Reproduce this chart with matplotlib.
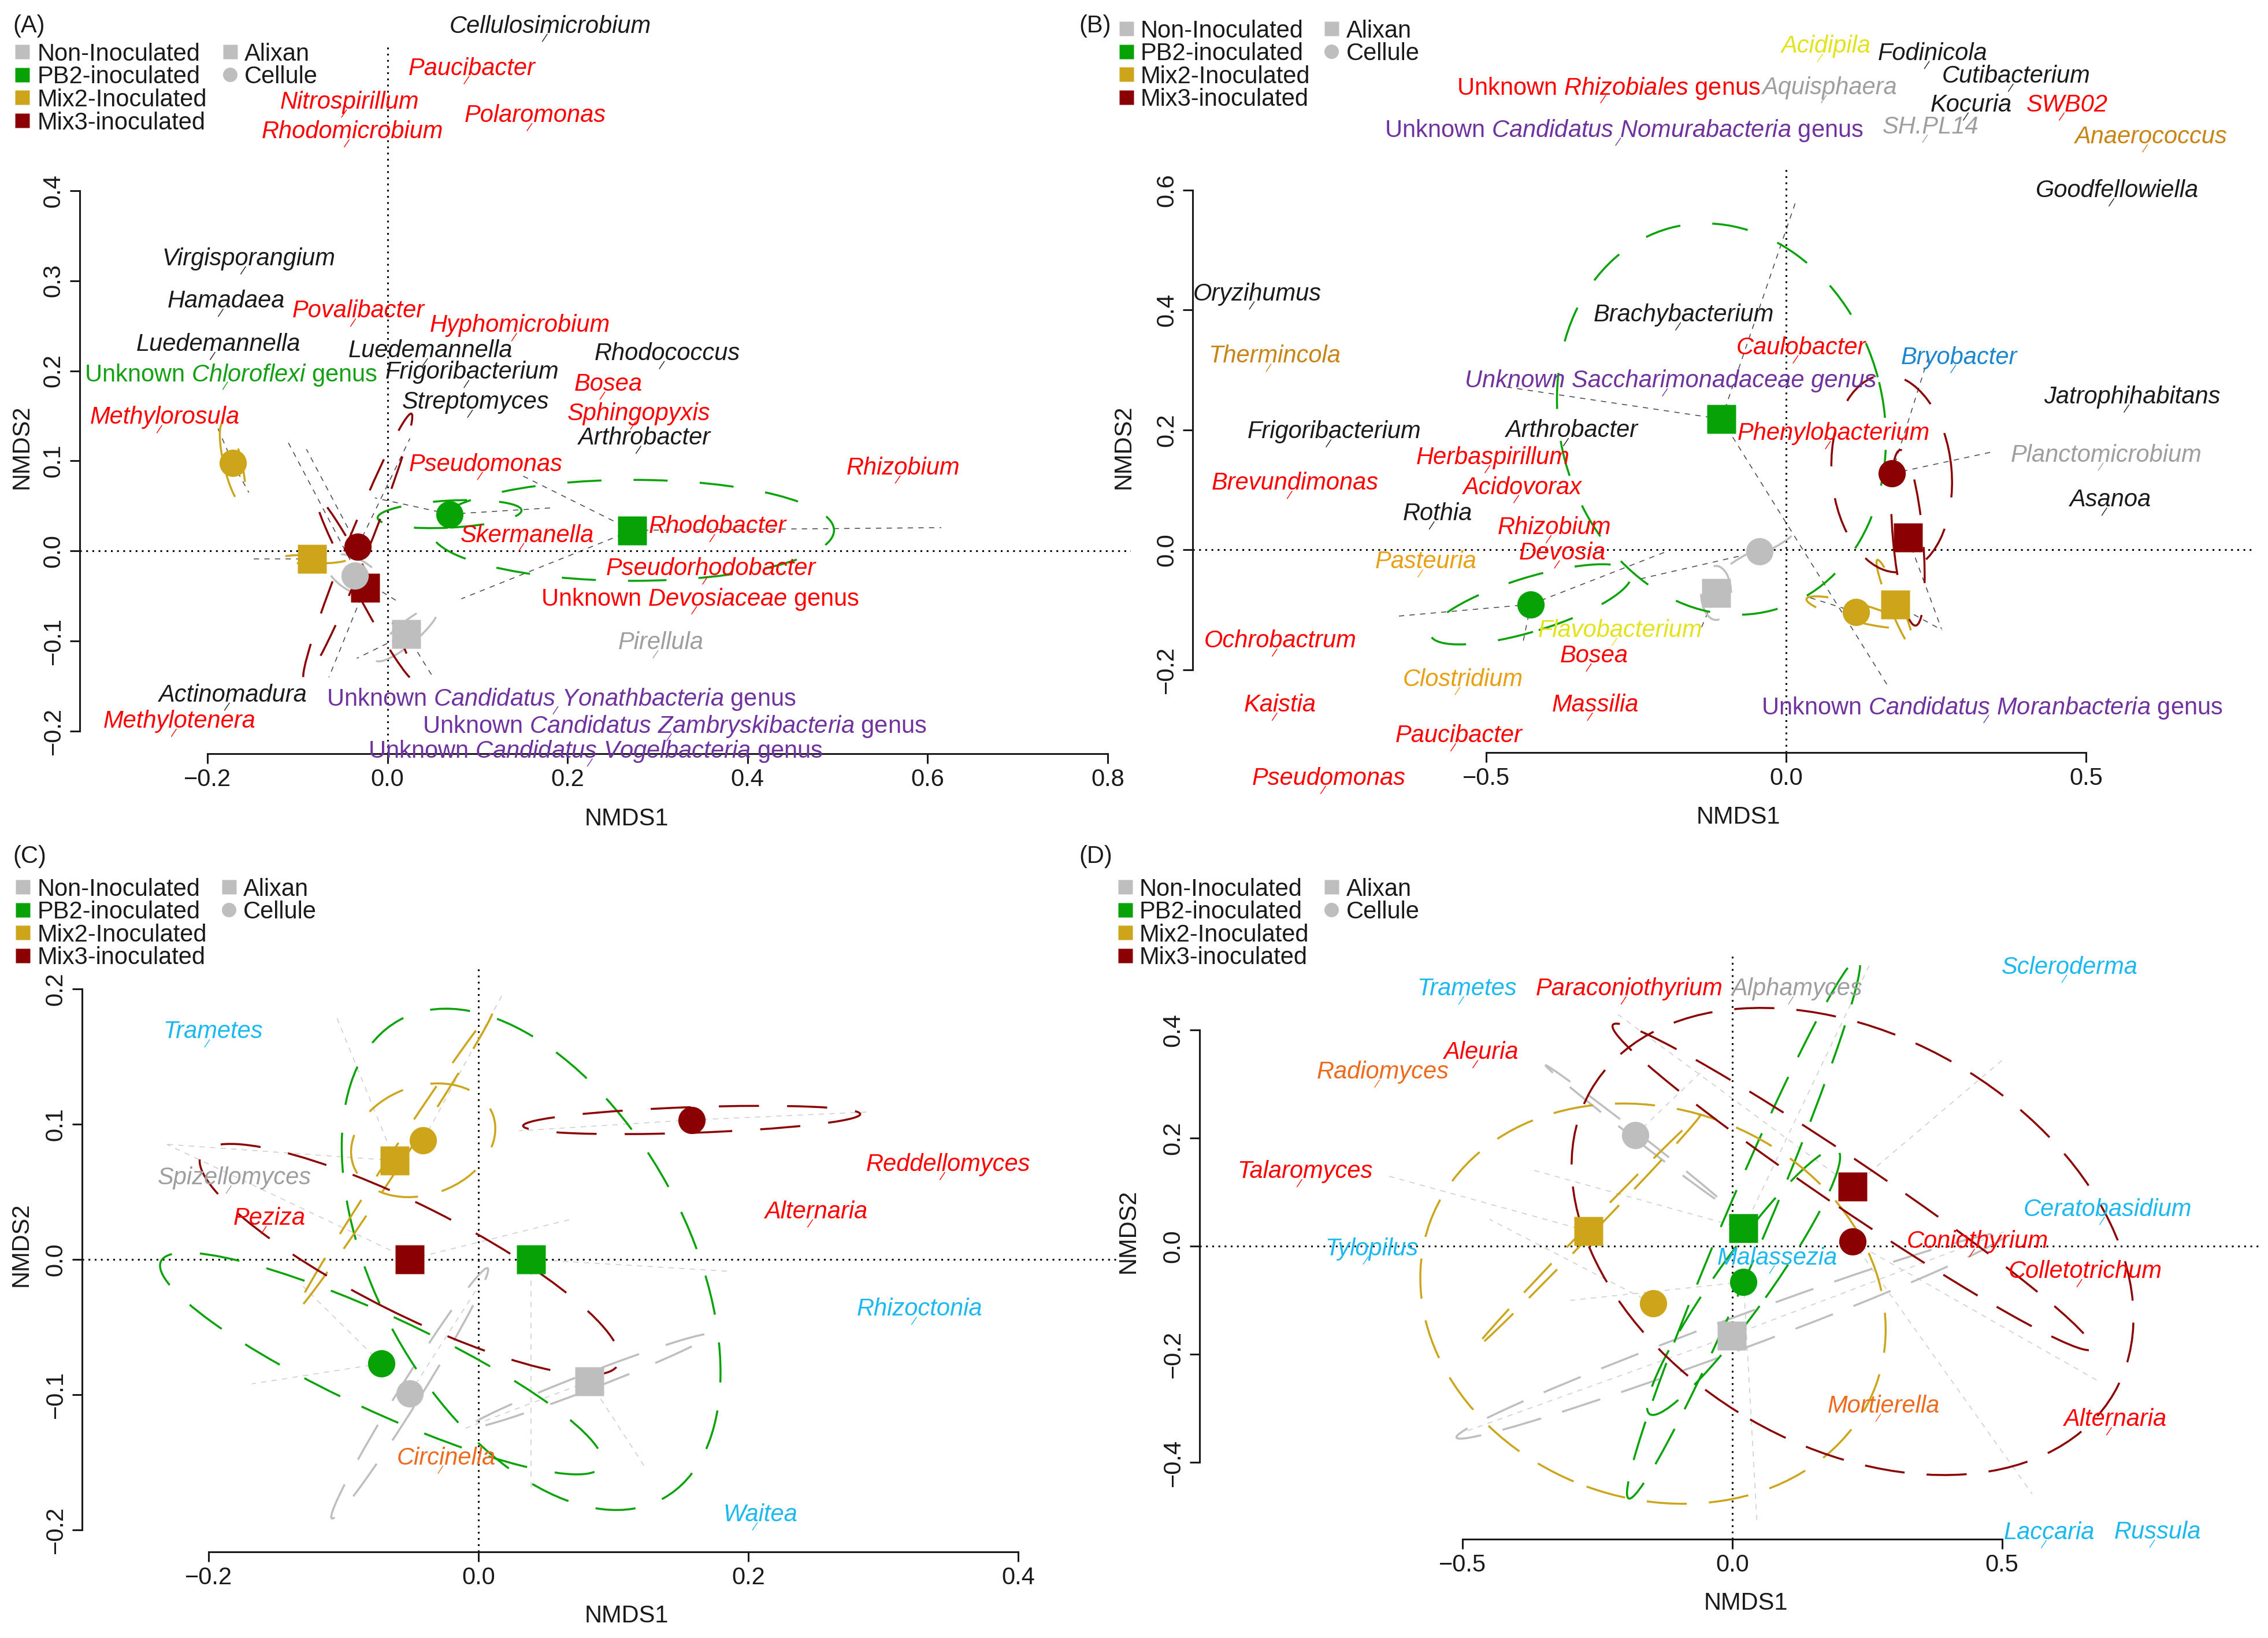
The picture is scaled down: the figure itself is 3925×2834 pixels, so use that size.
import matplotlib
matplotlib.use("Agg")
import matplotlib.pyplot as plt
from matplotlib.patches import Ellipse

plt.rcParams['font.family'] = ['Liberation Sans', 'DejaVu Sans']
plt.rcParams['mathtext.fontset'] = 'custom'
plt.rcParams['mathtext.rm'] = 'Liberation Sans'
plt.rcParams['mathtext.it'] = 'Liberation Sans:italic'
plt.rcParams['mathtext.bf'] = 'Liberation Sans:bold'

# ---- groups / legend ----
groups = ['Non-Inoculated', 'PB2-inoculated', 'Mix2-Inoculated', 'Mix3-inoculated']
group_colors = ['#BEBEBE', '#06A206', '#CCA51B', '#8B0000']
cultivars = ['Alixan', 'Cellule']
cultivar_markers = ['s', 'o']

RED, BLK, GRY, PUR = '#FF0000', '#1A1A1A', '#9E9E9E', '#70329E'
GRN, YEL, BRN, ORG = '#13A013', '#E3E31C', '#C98416', '#E8A012'
BLU, CYN, FOR = '#1A86CF', '#1CB8F0', '#EE6A1C'


def unk(name):
    return 'Unknown $\\mathit{' + name.replace(' ', '\\ ') + '}$ genus'


# centroid order: Non/Alixan, Non/Cellule, PB2/Alixan, PB2/Cellule,
#                 Mix2/Alixan, Mix2/Cellule, Mix3/Alixan, Mix3/Cellule
# ---------------- panel A ----------------
A_cx = [0.021, -0.036, 0.272, 0.069, -0.084, -0.172, -0.025, -0.033]
A_cy = [-0.092, -0.027, 0.023, 0.041, -0.009, 0.098, -0.041, 0.005]
A_ea = [0.045, 0.035, 0.224, 0.080, 0.040, 0.046, 0.115, 0.159]
A_eb = [0.012, 0.018, 0.056, 0.015, 0.005, 0.010, 0.010, 0.012]
A_eang = [40, -30, 0, 3, 0, -77, -62, 68]
A_sp_from = [2, 2, 2, 3, 3, 7, 7, 6, 6, 5, 5, 0, 0, 4, 1]
A_sp_x = [0.615, 0.147, 0.082, -0.014, 0.183, -0.090, 0.025, -0.065, -0.110,
          -0.154, -0.190, 0.050, -0.034, -0.150, 0.010]
A_sp_y = [0.026, 0.085, -0.053, 0.059, 0.048, 0.113, 0.125, -0.140, 0.120,
          0.065, 0.140, -0.139, -0.119, -0.009, -0.055]
A_taxa = ['Cellulosimicrobium', 'Paucibacter', 'Nitrospirillum', 'Polaromonas',
          'Rhodomicrobium', 'Virgisporangium', 'Hamadaea', 'Povalibacter',
          'Hyphomicrobium', 'Luedemannella', 'Luedemannella', 'Rhodococcus',
          unk('Chloroflexi'), 'Frigoribacterium', 'Bosea', 'Streptomyces',
          'Sphingopyxis', 'Methylorosula', 'Arthrobacter', 'Pseudomonas',
          'Rhizobium', 'Rhodobacter', 'Skermanella', 'Pseudorhodobacter',
          unk('Devosiaceae'), 'Pirellula', 'Actinomadura',
          unk('Candidatus Yonathbacteria'), 'Methylotenera',
          unk('Candidatus Zambryskibacteria'), unk('Candidatus Vogelbacteria')]
A_tx = [0.181, 0.094, -0.042, 0.164, -0.039, -0.154, -0.179, -0.032, 0.147, -0.188,
        0.048, 0.311, -0.174, 0.094, 0.245, 0.098, 0.279, -0.247, 0.285, 0.109,
        0.573, 0.367, 0.155, 0.359, 0.347, 0.304, -0.172, 0.193, -0.231, 0.319, 0.231]
A_ty = [0.585, 0.538, 0.501, 0.486, 0.468, 0.327, 0.280, 0.269, 0.253, 0.232,
        0.225, 0.222, 0.199, 0.201, 0.188, 0.168, 0.155, 0.151, 0.128, 0.099,
        0.095, 0.030, 0.020, -0.017, -0.050, -0.099, -0.157, -0.161, -0.186, -0.191, -0.219]
A_tcol = [BLK, RED, RED, RED, RED, BLK, BLK, RED, RED, BLK, BLK, BLK, GRN, BLK, RED,
          BLK, RED, RED, BLK, RED, RED, RED, RED, RED, RED, GRY, BLK, PUR, RED, PUR, PUR]

# ---------------- panel B ----------------
B_cx = [-0.117, -0.045, -0.108, -0.426, 0.182, 0.116, 0.203, 0.176]
B_cy = [-0.072, -0.003, 0.218, -0.091, -0.091, -0.104, 0.020, 0.127]
B_ea = [0.045, 0.060, 0.330, 0.175, 0.080, 0.085, 0.147, 0.165]
B_eb = [0.025, 0.006, 0.270, 0.045, 0.010, 0.015, 0.025, 0.100]
B_eang = [90, 27, 105, 17, -68, -15, -85, 95]
B_sp_from = [2, 2, 2, 3, 3, 3, 7, 7, 6, 4, 5, 1, 0]
B_sp_x = [-0.470, 0.016, 0.172, -0.651, -0.439, -0.200, 0.347, 0.240, 0.259, 0.260,
          0.040, -0.250, -0.150]
B_sp_y = [0.272, 0.581, -0.231, -0.111, -0.154, -0.003, 0.164, 0.330, -0.132, -0.134,
          -0.080, -0.050, -0.150]
B_taxa = ['Acidipila', 'Fodinicola', 'Cutibacterium', unk('Rhizobiales'), 'Aquisphaera',
          'Kocuria', 'SWB02', unk('Candidatus Nomurabacteria'), 'SH.PL14', 'Anaerococcus',
          'Goodfellowiella', 'Oryzihumus', 'Brachybacterium', 'Thermincola', 'Caulobacter',
          'Bryobacter', 'Unknown Saccharimonadaceae genus', 'Jatrophihabitans',
          'Frigoribacterium', 'Arthrobacter', 'Phenylobacterium', 'Herbaspirillum',
          'Planctomicrobium', 'Brevundimonas', 'Acidovorax', 'Asanoa', 'Rothia',
          'Rhizobium', 'Devosia', 'Pasteuria', 'Flavobacterium', 'Ochrobactrum', 'Bosea',
          'Clostridium', 'Kaistia', 'Massilia', unk('Candidatus Moranbacteria'),
          'Paucibacter', 'Pseudomonas']
B_tx = [0.066, 0.244, 0.384, -0.296, 0.072, 0.309, 0.469, -0.271, 0.241, 0.608,
        0.552, -0.882, -0.171, -0.854, 0.025, 0.288, -0.193, 0.577, -0.754, -0.358,
        0.079, -0.489, 0.534, -0.819, -0.441, 0.540, -0.582, -0.387, -0.373, -0.601,
        -0.277, -0.844, -0.320, -0.539, -0.844, -0.318, 0.343, -0.546, -0.763]
B_ty = [0.844, 0.832, 0.794, 0.775, 0.775, 0.746, 0.746, 0.704, 0.709, 0.693,
        0.603, 0.431, 0.396, 0.327, 0.341, 0.325, 0.286, 0.259, 0.201, 0.203,
        0.198, 0.158, 0.162, 0.115, 0.108, 0.087, 0.064, 0.041, -0.001, -0.016,
        -0.130, -0.148, -0.173, -0.212, -0.255, -0.255, -0.259, -0.306, -0.377]
B_tcol = [YEL, BLK, BLK, RED, GRY, BLK, RED, PUR, GRY, BRN, BLK, BLK, BLK, BRN, RED,
          BLU, PUR, BLK, BLK, BLK, RED, RED, GRY, RED, RED, BLK, BLK, RED, RED, ORG,
          YEL, RED, RED, ORG, RED, RED, PUR, RED, RED]

# ---------------- panel C ----------------
C_cx = [0.082, -0.051, 0.039, -0.072, -0.062, -0.041, -0.051, 0.158]
C_cy = [-0.090, -0.099, 0.000, -0.077, 0.073, 0.088, 0.000, 0.103]
C_ea = [0.096, 0.109, 0.202, 0.180, 0.132, 0.055, 0.173, 0.125]
C_eb = [0.006, 0.008, 0.115, 0.035, 0.005, 0.040, 0.040, 0.0095]
C_eang = [21, 58, -61, -24.8, 56.7, 20, -26.6, 2]
C_sp_from = [7, 7, 2, 2, 3, 3, 5, 4, 4, 0, 0, 6, 1, 6]
C_sp_x = [0.291, 0.030, 0.188, 0.039, -0.168, -0.130, 0.019, -0.106, -0.231, 0.123,
          -0.010, -0.231, 0.000, 0.070]
C_sp_y = [0.109, 0.095, -0.009, -0.172, -0.092, -0.020, 0.198, 0.181, 0.085, -0.153,
          -0.125, 0.085, -0.020, 0.030]
C_taxa = ['Trametes', 'Spizellomyces', 'Peziza', 'Reddellomyces', 'Alternaria',
          'Rhizoctonia', 'Circinella', 'Waitea']
C_tx = [-0.197, -0.181, -0.155, 0.348, 0.250, 0.327, -0.024, 0.209]
C_ty = [0.170, 0.062, 0.032, 0.072, 0.037, -0.035, -0.145, -0.187]
C_tcol = [CYN, GRY, RED, RED, RED, CYN, FOR, CYN]

# ---------------- panel D ----------------
D_cx = [-0.001, -0.180, 0.021, 0.021, -0.267, -0.147, 0.223, 0.223]
D_cy = [-0.165, 0.206, 0.033, -0.066, 0.028, -0.106, 0.110, 0.009]
D_ea = [0.544, 0.210, 0.543, 0.300, 0.300, 0.440, 0.536, 0.560]
D_eb = [0.030, 0.006, 0.040, 0.050, 0.008, 0.360, 0.045, 0.380]
D_eang = [20.3, -37.8, 66.9, 54.5, 46, -20, -34, -30]
D_sp_from = [6, 6, 7, 3, 4, 2, 2, 0, 0, 5, 1, 7, 3]
D_sp_x = [-0.212, 0.500, 0.556, 0.046, -0.645, -0.373, 0.256, -0.513, 0.507, -0.450,
          -0.050, 0.680, -0.300]
D_sp_y = [0.429, 0.344, -0.458, -0.514, 0.132, 0.142, 0.524, -0.349, 0.028, 0.050,
          0.330, -0.250, -0.100]
D_taxa = ['Scleroderma', 'Trametes', 'Paraconiothyrium', 'Alphamyces', 'Aleuria',
          'Radiomyces', 'Talaromyces', 'Ceratobasidium', 'Coniothyrium', 'Tylopilus',
          'Malassezia', 'Colletotrichum', 'Mortierella', 'Alternaria', 'Laccaria', 'Russula']
D_tx = [0.626, -0.492, -0.191, 0.119, -0.466, -0.648, -0.792, 0.696, 0.455, -0.669,
        0.084, 0.654, 0.281, 0.709, 0.588, 0.789]
D_ty = [0.521, 0.481, 0.481, 0.481, 0.363, 0.327, 0.143, 0.073, 0.014, 0.000,
        -0.017, -0.042, -0.291, -0.316, -0.525, -0.524]
D_tcol = [CYN, CYN, RED, GRY, RED, FOR, RED, CYN, RED, CYN, CYN, RED, FOR, RED, CYN, CYN]

# ---- layout (positions given on a 1568 x 1132 grid) ----
W, H = 1568.0, 1132.0
panels = [
    dict(letter='(A)', box=(55, 32, 782, 521), xlim=(-0.342, 0.826), ylim=(-0.225, 0.560),
         xt=[-0.2, 0.0, 0.2, 0.4, 0.6, 0.8], yt=[-0.2, -0.1, 0.0, 0.1, 0.2, 0.3, 0.4],
         cx=A_cx, cy=A_cy, ea=A_ea, eb=A_eb, eang=A_eang, dash=(17, 16),
         spf=A_sp_from, spx=A_sp_x, spy=A_sp_y, spc='#444444',
         taxa=A_taxa, tx=A_tx, ty=A_ty, tcol=A_tcol,
         lett=(9, 16), leg=(15, 26, 159, 169, 35.7), x1=(433, 566), y2=(15, 309)),
    dict(letter='(B)', box=(824.6, 116, 1559, 520), xlim=(-0.990, 0.782), ylim=(-0.338, 0.637),
         xt=[-0.5, 0.0, 0.5], yt=[-0.2, 0.0, 0.2, 0.4, 0.6],
         cx=B_cx, cy=B_cy, ea=B_ea, eb=B_eb, eang=B_eang, dash=(18, 16),
         spf=B_sp_from, spx=B_sp_x, spy=B_sp_y, spc='#444444',
         taxa=B_taxa, tx=B_tx, ty=B_ty, tcol=B_tcol,
         lett=(746, 16), leg=(778.7, 788.5, 920.5, 930.8, 19.6), x1=(1202, 565), y2=(777, 309)),
    dict(letter='(C)', box=(56.6, 667.4, 772, 1072.3), xlim=(-0.294, 0.473), ylim=(-0.216, 0.217),
         xt=[-0.2, 0.0, 0.2, 0.4], yt=[-0.2, -0.1, 0.0, 0.1, 0.2],
         cx=C_cx, cy=C_cy, ea=C_ea, eb=C_eb, eang=C_eang, dash=(20, 14),
         spf=C_sp_from, spx=C_sp_x, spy=C_sp_y, spc='#CCCCCC',
         taxa=C_taxa, tx=C_tx, ty=C_ty, tcol=C_tcol,
         lett=(9, 590), leg=(15.5, 25.7, 158.3, 168, 612.8), x1=(433, 1117), y2=(14.5, 860)),
    dict(letter='(D)', box=(829.2, 659.6, 1563.8, 1063.8), xlim=(-0.988, 0.982), ylim=(-0.542, 0.540),
         xt=[-0.5, 0.0, 0.5], yt=[-0.4, -0.2, 0.0, 0.2, 0.4],
         cx=D_cx, cy=D_cy, ea=D_ea, eb=D_eb, eang=D_eang, dash=(20, 11),
         spf=D_sp_from, spx=D_sp_x, spy=D_sp_y, spc='#CCCCCC',
         taxa=D_taxa, tx=D_tx, ty=D_ty, tcol=D_tcol,
         lett=(746, 590), leg=(778, 787.5, 920.4, 930.8, 612.8), x1=(1207, 1108), y2=(780, 851)),
]

FS = 30
fig = plt.figure(figsize=(39.25, 28.34), dpi=100)

# overlay for legends / panel letters / axis titles
ov = fig.add_axes([0, 0, 1, 1])
ov.set_xlim(0, W)
ov.set_ylim(H, 0)
ov.set_axis_off()


def fmt(v):
    return f'{v:.1f}'.replace('-', '\u2212')


for p in panels:
    l, t, r, b = p['box']
    ax = fig.add_axes([l / W, 1 - b / H, (r - l) / W, (b - t) / H])
    ax.patch.set_alpha(0)
    ax.set_xlim(*p['xlim'])
    ax.set_ylim(*p['ylim'])
    for s in ['top', 'right']:
        ax.spines[s].set_visible(False)
    for s in ['left', 'bottom']:
        ax.spines[s].set_linewidth(2.2)
        ax.spines[s].set_color('#1A1A1A')
    ax.spines['left'].set_bounds(p['yt'][0], p['yt'][-1])
    ax.spines['bottom'].set_bounds(p['xt'][0], p['xt'][-1])
    ax.set_xticks(p['xt'])
    ax.set_xticklabels([fmt(v) for v in p['xt']])
    ax.set_yticks(p['yt'])
    ax.set_yticklabels([fmt(v) for v in p['yt']], rotation=90, va='center')
    ax.tick_params(direction='out', length=12, width=2.2, labelsize=FS, pad=6,
                   color='#1A1A1A', labelcolor='#1A1A1A')

    ax.axhline(0, color='black', lw=2.2, ls=(0, (1, 2.5)), zorder=1.5)
    ax.axvline(0, color='black', lw=2.2, ls=(0, (1, 2.5)), zorder=1.5)

    # spiders
    for k, sx, sy in zip(p['spf'], p['spx'], p['spy']):
        ax.plot([p['cx'][k], sx], [p['cy'][k], sy], color=p['spc'], lw=1.1,
                ls=(0, (6, 6)), zorder=1)

    # ellipses
    for k in range(8):
        col = group_colors[k // 2]
        ax.add_patch(Ellipse((p['cx'][k], p['cy'][k]), 2 * p['ea'][k], 2 * p['eb'][k],
                             angle=p['eang'][k], fill=False, ec=col, lw=2.5,
                             ls=(0, p['dash']), zorder=2))

    # centroids: squares first, circles on top
    for c in range(2):
        for g in range(4):
            k = g * 2 + c
            ax.plot(p['cx'][k], p['cy'][k], cultivar_markers[c], color=group_colors[g],
                    ms=36 if c == 0 else 34, mec='none', zorder=3 + c)

    # taxa labels
    ppu = (r - l) * 3925 / W / (p['xlim'][1] - p['xlim'][0]) * 72 / 100
    for name, x, y, col in zip(p['taxa'], p['tx'], p['ty'], p['tcol']):
        style = 'normal' if '$' in name else 'italic'
        ax.text(x, y, name, color=col, fontsize=FS, style=style, ha='center',
                va='center_baseline', zorder=6, clip_on=False)
        # small leader toward the species point
        ax.plot([x - 4 / ppu, x - 10 / ppu], [y - 13 / ppu, y - 22 / ppu], color=col,
                lw=1.0, zorder=6, clip_on=False)

    # panel letter, legend and axis titles
    ov.text(p['lett'][0], p['lett'][1], p['letter'], fontsize=FS, ha='left',
            va='center_baseline', color='#1A1A1A')
    mx, tx0, mx2, tx2, y0 = p['leg']
    for i, (lab, col) in enumerate(zip(groups, group_colors)):
        yy = y0 + i * 15.8
        ov.plot(mx, yy, 's', color=col, ms=18, mec='none')
        ov.text(tx0, yy, lab, fontsize=FS, ha='left', va='center_baseline', color='#1A1A1A')
    for i, (lab, mk) in enumerate(zip(cultivars, cultivar_markers)):
        yy = y0 + i * 15.8
        ov.plot(mx2, yy, mk, color=group_colors[0], ms=18, mec='none')
        ov.text(tx2, yy, lab, fontsize=FS, ha='left', va='center_baseline', color='#1A1A1A')
    ov.text(p['x1'][0], p['x1'][1], 'NMDS1', fontsize=FS, ha='center', va='center',
            color='#1A1A1A')
    ov.text(p['y2'][0], p['y2'][1], 'NMDS2', fontsize=FS, ha='center', va='center',
            rotation=90, color='#1A1A1A')

fig.savefig('out.png', dpi=100)
